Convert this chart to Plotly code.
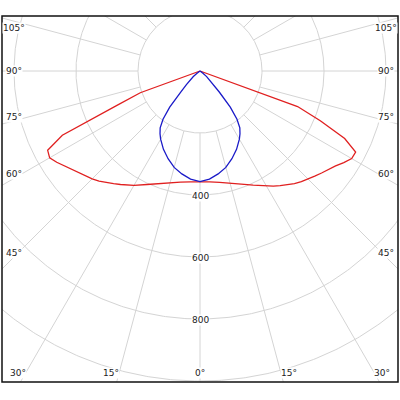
import numpy as np
import plotly.graph_objects as go

# ── Data (cd/klm) ─────────────────────────────────────────────────────────────
# angles measured from nadir: 0 = straight down, 90 = horizontal
ANGLES = [0, 5, 10, 15, 20, 25, 30, 32.5, 35, 37.5, 40, 42.5, 45, 47.5,
          50, 52.5, 55, 57.5, 60, 62.5, 65, 67.5, 70, 72.5, 75, 80, 85, 90]

# C0-C180 plane (red), each half read separately
C0_LEFT = [357, 359, 364, 373, 386, 404, 426, 436, 447, 458, 470, 482, 492, 502,
           512, 522, 534, 548, 560, 554, 490, 290, 205, 0, 0, 0, 0, 0]
C0_RIGHT = [357, 359, 365, 374, 388, 406, 428, 440, 451, 462, 474, 484, 493, 502,
            512, 521, 534, 550, 565, 566, 515, 420, 335, 0, 0, 0, 0, 0]

# C90-C270 plane (blue), symmetric
C90 = [357, 350, 337, 322, 301, 279, 254, 240, 224, 196, 152, 92, 62, 45,
       28, 12, 4, 0, 0, 0, 0, 0, 0, 0, 0, 0, 0, 0]

RINGS = [200, 400, 600, 800, 1000, 1200]
RING_LABELS = [400, 600, 800]
SPOKES = list(range(-180, 180, 15))
SPOKE_LABELS = [-105, -90, -75, -60, -45, -30, -15, 0, 15, 30, 45, 60, 75, 90, 105]

# ── Style ─────────────────────────────────────────────────────────────────────
GRID = "#d4d4d4"
RED = "#e02020"
BLUE = "#1a1ac8"
TEXT = "#222222"
FONT = "DejaVu Sans"

X_HALF = 638.7
Y_TOP, Y_BOTTOM = 177.4, -1003.2
LABEL_X = 600        # side labels, data units from centre
LABEL_BOTTOM = -974  # bottom labels
LABEL_TOP = 138.7


def to_xy(angles, values, side):
    a = np.radians(angles)
    v = np.asarray(values, dtype=float)
    return side * v * np.sin(a), -v * np.cos(a)


# ── Grid ──────────────────────────────────────────────────────────────────────
t = np.linspace(0, 2 * np.pi, 721)
gx, gy = [], []
for r in RINGS:
    gx += list(r * np.cos(t)) + [None]
    gy += list(r * np.sin(t)) + [None]
for s in SPOKES:
    a = np.radians(s)
    gx += [RINGS[0] * np.sin(a), 1600 * np.sin(a), None]
    gy += [-RINGS[0] * np.cos(a), -1600 * np.cos(a), None]

fig = go.Figure()
fig.add_trace(go.Scatter(x=gx, y=gy, mode="lines", line=dict(color=GRID, width=1),
                         hoverinfo="skip", showlegend=False))

# ── Curves ────────────────────────────────────────────────────────────────────
xl, yl = to_xy(ANGLES, C0_LEFT, -1)
xr, yr = to_xy(ANGLES, C0_RIGHT, 1)
fig.add_trace(go.Scatter(x=np.concatenate([xl[::-1], xr[1:]]),
                         y=np.concatenate([yl[::-1], yr[1:]]),
                         mode="lines", line=dict(color=RED, width=1.3),
                         name="C0-C180", showlegend=False))

bl, byl = to_xy(ANGLES, C90, -1)
br, byr = to_xy(ANGLES, C90, 1)
fig.add_trace(go.Scatter(x=np.concatenate([bl[::-1], br[1:]]),
                         y=np.concatenate([byl[::-1], byr[1:]]),
                         mode="lines", line=dict(color=BLUE, width=1.3),
                         name="C90-C270", showlegend=False))

# ── Labels ────────────────────────────────────────────────────────────────────
annotations = []
for a in SPOKE_LABELS:
    rad = np.radians(abs(a))
    dx, dy = np.sign(a) * np.sin(rad), -np.cos(rad)
    hits = []
    if abs(dx) > 1e-9:
        hits.append(LABEL_X / abs(dx))
    if dy < -1e-9:
        hits.append(LABEL_BOTTOM / dy)
    k = min(hits)
    x, y = dx * k, min(dy * k, LABEL_TOP)
    xshift = yshift = 0
    if 0 < abs(a) < 90:
        if abs(x) >= LABEL_X - 1:
            yshift = 4
        else:
            xshift = 8 * np.sign(a)
    annotations.append(dict(x=x, y=y, text=f"{abs(a)}°", showarrow=False,
                            xshift=xshift, yshift=yshift, bgcolor="white",
                            borderpad=0, font=dict(family=FONT, size=9, color=TEXT)))

for r in RING_LABELS:
    annotations.append(dict(x=0, y=-r, text=str(r), showarrow=False, yshift=-1,
                            bgcolor="white", borderpad=0,
                            font=dict(family=FONT, size=9, color=TEXT)))

fig.update_layout(
    width=400, height=400,
    margin=dict(l=0, r=0, t=0, b=0),
    paper_bgcolor="white", plot_bgcolor="white",
    xaxis=dict(range=[-X_HALF, X_HALF], domain=[0.005, 0.995], visible=False, fixedrange=True),
    yaxis=dict(range=[Y_BOTTOM, Y_TOP], domain=[0.045, 0.96], visible=False, fixedrange=True),
    annotations=annotations,
    shapes=[dict(type="rect", xref="paper", yref="paper", x0=0.005, x1=0.995,
                 y0=0.045, y1=0.96, line=dict(color="#111111", width=1.5))],
)

# page body has a default 8px margin; drop it so the 400x400 figure fills the window
fig.write_html("out.html", config={"displayModeBar": False},
               post_script="document.body.style.margin='0px';")
